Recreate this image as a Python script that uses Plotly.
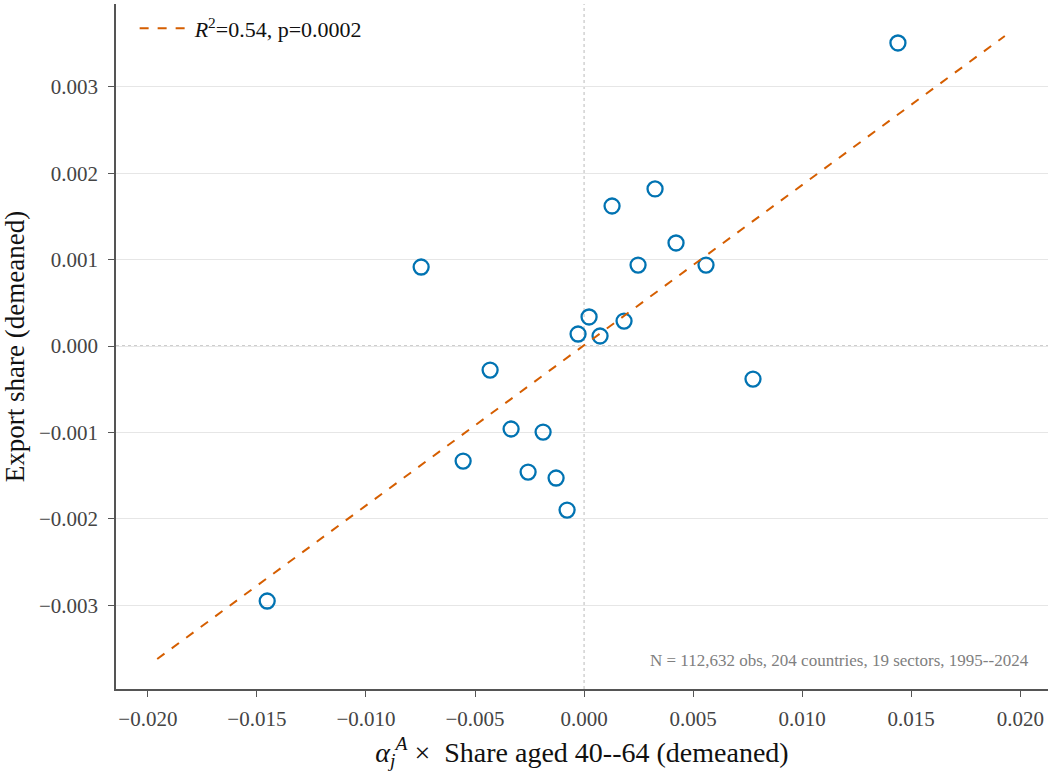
import plotly.graph_objects as go

# Scatter points (binned / sector means)
x_vals = [0.01439, 0.003254, 0.001283, 0.004216, -0.00747, 0.002475, 0.005591,
          0.000229, 0.001833, -0.000275, 0.000733, -0.004308, 0.007745,
          -0.003346, -0.001879, -0.005545, -0.002566, -0.001283, -0.000779, -0.014528]
y_vals = [0.003506, 0.001817, 0.00162, 0.001192, 0.000914, 0.000937, 0.000937,
          0.000336, 0.000289, 0.000139, 0.000116, -0.000278, -0.000382,
          -0.00096, -0.000995, -0.001331, -0.001458, -0.001527, -0.001898, -0.00295]

# Fitted line end points
fit_x = [-0.01957, 0.01929]
fit_y = [-0.003621, 0.003587]

x_ticks = [-0.020, -0.015, -0.010, -0.005, 0.0, 0.005, 0.010, 0.015, 0.020]
y_ticks = [-0.003, -0.002, -0.001, 0.0, 0.001, 0.002, 0.003]

FONT = "Liberation Serif"
BLUE = "#0173B2"
ORANGE = "#D55E00"

fig = go.Figure()
fig.add_trace(go.Scatter(
    x=x_vals, y=y_vals, mode="markers", showlegend=False,
    marker=dict(symbol="circle-open", size=15, color=BLUE, line=dict(width=2.3, color=BLUE)),
))
fig.add_trace(go.Scatter(
    x=fit_x, y=fit_y, mode="lines",
    name="<i>R</i><sup>2</sup>=0.54, p=0.0002",
    line=dict(color=ORANGE, width=2, dash="dash"),
))

fig.add_hline(y=0, line=dict(color="#999999", width=1, dash="dot"), layer="below")
fig.add_vline(x=0, line=dict(color="#bbbbbb", width=1, dash="dot"), layer="below")

fig.add_annotation(
    x=0.982, y=0.025, xref="paper", yref="paper", xanchor="right", yanchor="bottom",
    text="N = 112,632 obs, 204 countries, 19 sectors, 1995--2024",
    showarrow=False, font=dict(family=FONT, size=17, color="#808080"),
)

fig.update_layout(
    width=1050, height=772,
    margin=dict(l=116, r=2, t=4, b=83),
    paper_bgcolor="white", plot_bgcolor="white",
    font=dict(family=FONT, size=21, color="#444444"),
    legend=dict(x=0.02, y=0.995, xanchor="left", yanchor="top", itemwidth=50,
                bgcolor="rgba(255,255,255,0)", font=dict(family=FONT, size=22, color="#111111")),
    xaxis=dict(
        range=[-0.02146, 0.02127], tickvals=x_ticks, tickformat=".3f",
        showgrid=False, zeroline=False, automargin=False,
        showline=True, linecolor="#555555", linewidth=1.5,
        ticks="outside", ticklen=6, tickcolor="#555555", tickwidth=1,
        ticklabelstandoff=4,
        tickfont=dict(family=FONT, size=21, color="#444444"),
        title=dict(text="<i>α</i><sub><i>j</i></sub><sup><i>A</i></sup> ×  Share aged 40--64 (demeaned)",
                   font=dict(family=FONT, size=28, color="#111111"), standoff=12),
    ),
    yaxis=dict(
        range=[-0.003968, 0.003957], tickvals=y_ticks, tickformat=".3f",
        showgrid=True, gridcolor="#e6e6e6", gridwidth=1, zeroline=False, automargin=False,
        showline=True, linecolor="#555555", linewidth=1.5,
        ticks="outside", ticklen=6, tickcolor="#555555", tickwidth=1,
        ticklabelstandoff=6,
        tickfont=dict(family=FONT, size=21, color="#444444"),
        title=dict(text="Export share (demeaned)",
                   font=dict(family=FONT, size=27, color="#111111"), standoff=8),
    ),
)

fig.write_html("out.html", config={"displayModeBar": False},
               post_script="document.body.style.margin='0';")
